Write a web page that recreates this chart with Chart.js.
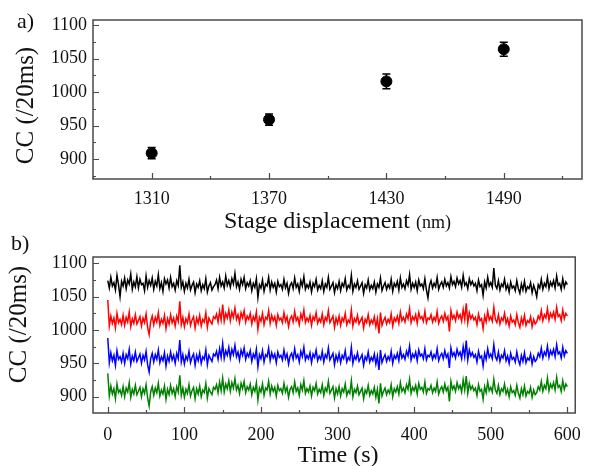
<!DOCTYPE html>
<html>
<head>
<meta charset="UTF-8">
<title>CC vs stage displacement</title>
<script src="https://cdn.jsdelivr.net/npm/chart.js"></script>
<style>
    body { margin: 0; background: #fff; }
    #wrap { position: relative; width: 592px; height: 466px; font-family: "Liberation Serif", serif; color: #111; }
    .box { position: absolute; left: 0; width: 592px; }
    .lbl { position: absolute; font-size: 22px; line-height: 22px; }
    .xt { position: absolute; text-align: center; font-size: 24px; line-height: 24px; white-space: nowrap; }
    .xt small { font-size: 18px; }
    .yt { position: absolute; width: 200px; height: 25px; font-size: 25px; line-height: 25px;
          text-align: center; white-space: nowrap; transform: rotate(-90deg); }
</style>
</head>
<body>
<div id="wrap">
    <div class="box" style="top:0;height:232px"><canvas id="chartA"></canvas></div>
    <div class="box" style="top:232px;height:234px"><canvas id="chartB"></canvas></div>
    <div class="lbl" style="left:17px;top:10px">a)</div>
    <div class="lbl" style="left:11px;top:232px">b)</div>
    <div class="yt" style="left:-76.5px;top:93px">CC (/20ms)</div>
    <div class="yt" style="left:-83.4px;top:312px">CC (/20ms)</div>
    <div class="xt" style="left:93px;width:489px;top:208px">Stage displacement <small>(nm)</small></div>
    <div class="xt" style="left:93px;width:490px;top:442px">Time (s)</div>
</div>
<script>
// panel a
const displacement = [1310, 1370, 1430, 1490];
const ccMean = [909, 959, 1016, 1064];
const ccErr = [8.5, 8.5, 11, 10.5];
const xTicksA = [1310, 1370, 1430, 1490];
const yTicks = [900, 950, 1000, 1050, 1100];

// panel b, one sample every 2 s (0 .. 600 s)
const time = [];
for (let t = 0; t <= 600; t += 2) time.push(t);
const traceBlack = [
    1074,1063,1079,1066,1071,1060,1082,1068,1050,1073,
    1066,1078,1062,1075,1069,1084,1061,1072,1065,1080,
    1063,1076,1068,1070,1059,1081,1064,1074,1067,1078,
    1061,1073,1066,1083,1062,1071,1058,1077,1069,1075,
    1063,1079,1065,1070,1060,1074,1067,1097,1064,1072,
    1058,1070,1063,1076,1060,1067,1072,1056,1069,1064,
    1074,1059,1068,1062,1077,1057,1066,1071,1060,1065,
    1068,1075,1062,1079,1066,1072,1063,1081,1067,1074,
    1064,1077,1069,1085,1065,1072,1061,1076,1068,1079,
    1062,1071,1066,1074,1059,1070,1064,1077,1049,1068,
    1063,1075,1058,1069,1066,1079,1060,1072,1064,1070,
    1057,1073,1065,1068,1061,1076,1063,1070,1055,1067,
    1071,1062,1078,1064,1069,1058,1074,1066,1080,1061,
    1068,1063,1072,1057,1070,1065,1076,1060,1067,1062,
    1074,1058,1069,1064,1079,1061,1066,1071,1056,1068,
    1062,1073,1059,1070,1065,1077,1060,1067,1063,1082,
    1058,1069,1064,1074,1061,1066,1071,1055,1068,1063,
    1075,1060,1067,1062,1072,1057,1069,1064,1078,1059,
    1066,1071,1061,1068,1063,1076,1058,1070,1065,1073,
    1060,1078,1064,1069,1062,1074,1067,1083,1061,1070,
    1064,1072,1059,1075,1066,1069,1062,1077,1060,1048,
    1067,1074,1063,1070,1065,1079,1061,1068,1072,1064,
    1076,1066,1071,1063,1080,1068,1073,1065,1078,1069,
    1074,1064,1082,1067,1071,1062,1077,1068,1073,1066,
    1070,1059,1075,1065,1068,1052,1072,1063,1079,1066,
    1071,1064,1093,1067,1062,1074,1060,1069,1065,1076,
    1061,1068,1057,1072,1063,1066,1059,1074,1062,1055,
    1069,1060,1073,1058,1065,1062,1071,1056,1067,1060,
    1050,1068,1063,1076,1061,1070,1065,1079,1062,1072,
    1066,1074,1063,1081,1067,1070,1061,1077,1064,1072,
    1068];
const traceRed = [
    1045,1006,1021,1010,1018,1003,1025,1011,1016,1008,
    1022,1007,1019,1012,1027,1005,1017,1010,1023,1009,
    1014,1020,1006,1018,1011,1024,1004,993,1013,1021,
    1008,1019,1012,1026,1007,1016,1010,1022,1002,1017,
    1009,1023,1011,1018,1006,1021,1013,1043,1008,1019,
    1005,1017,1011,1024,1007,1015,1020,1003,1018,1010,
    1022,1006,1016,1012,1026,1004,1018,1013,1009,1020,
    1017,1024,1012,1028,1015,1038,1013,1025,1018,1030,
    1014,1027,1019,1033,1016,1023,1011,1026,1018,1029,
    1012,1021,1016,1025,1009,1020,1014,1027,1001,1019,
    1013,1025,1008,1019,1016,1029,1010,1022,1014,1020,
    1007,1023,1015,1018,1011,1026,1013,1020,1005,1017,
    1021,1012,1028,1014,1019,1008,1024,1016,1030,1011,
    1018,1013,1022,1007,1020,1015,1026,1010,1017,1012,
    1024,1008,1019,1014,1029,1011,1016,1021,1004,1018,
    1010,1021,1007,1018,1013,1025,1008,1015,1011,1030,
    1006,1017,1012,1022,1009,1014,1019,1003,1016,1011,
    1023,1008,1015,1010,1020,1005,1017,995,1026,1007,
    1014,1019,1009,1016,1011,1024,1006,1018,1013,1021,
    1010,1027,1014,1019,1012,1024,1017,1032,1011,1020,
    1015,1023,1010,1026,1017,1020,1013,1028,1011,1018,
    1016,1023,1012,1019,1014,1028,1010,1017,1021,1013,
    1025,1015,1020,998,1029,1017,1022,1014,1027,1018,
    1023,1013,1031,1016,1040,1011,1026,1017,1022,1015,
    1019,1008,1024,1014,1017,1002,1021,1012,1028,1015,
    1020,1013,1034,1016,1011,1023,1009,1018,1014,1025,
    1010,1017,1006,1021,1012,1015,1008,1023,1011,1004,
    1018,1009,1022,1007,1014,1011,1020,1005,1016,1009,
    1012,1021,1016,1029,1014,1023,1018,1032,1015,1025,
    1019,1027,1016,1034,1020,1023,1014,1030,1017,1025,
    1021];
const traceBlue = [
    988,951,966,954,962,947,969,956,960,952,
    965,950,963,957,971,949,961,954,967,953,
    958,964,950,962,955,968,948,937,957,965,
    952,963,956,970,951,960,954,966,946,961,
    953,967,955,962,950,965,957,985,952,963,
    949,961,955,968,951,959,964,947,962,954,
    966,950,960,956,970,948,962,957,953,964,
    961,968,956,972,959,980,957,969,962,974,
    958,971,963,977,960,967,955,970,962,973,
    956,965,960,969,953,964,958,971,945,963,
    957,969,952,963,960,973,954,966,958,964,
    951,967,959,962,955,970,957,964,949,961,
    965,956,972,958,963,952,968,960,974,955,
    962,957,966,951,964,959,970,954,961,956,
    968,952,963,958,973,955,960,965,948,962,
    954,965,951,962,957,969,952,959,955,974,
    950,961,956,966,953,958,963,947,960,955,
    967,952,959,954,964,949,961,940,970,951,
    958,963,953,960,955,968,950,962,957,965,
    954,971,958,963,956,968,961,976,955,964,
    959,967,954,970,961,964,957,972,955,962,
    960,967,956,963,958,972,954,961,965,957,
    969,959,964,943,973,961,966,958,971,962,
    967,957,975,960,984,955,970,961,966,959,
    963,952,968,958,961,946,965,956,972,959,
    964,957,978,960,955,967,953,962,958,969,
    954,961,950,965,956,959,952,967,955,948,
    962,953,966,951,958,955,964,949,960,953,
    956,965,960,973,958,967,962,976,959,969,
    963,971,960,978,964,967,958,974,961,969,
    965];
const traceGreen = [
    935,901,916,904,912,897,919,906,910,902,
    915,900,913,907,921,899,911,904,917,903,
    908,914,900,912,905,918,898,886,907,915,
    902,913,906,920,901,910,904,916,896,911,
    903,917,905,912,900,915,907,932,902,913,
    899,911,905,918,901,909,914,897,912,904,
    916,900,910,906,920,898,912,907,903,914,
    911,918,906,922,909,928,907,919,912,924,
    908,921,913,927,910,917,905,920,912,923,
    906,915,910,919,903,914,908,921,895,913,
    907,919,902,913,910,923,904,916,908,914,
    901,917,909,912,905,920,907,914,899,911,
    915,906,922,908,913,902,918,910,924,905,
    912,907,916,901,914,909,920,904,911,906,
    918,902,913,908,923,905,910,915,898,912,
    904,915,901,912,907,919,902,909,905,924,
    900,911,906,916,903,908,913,897,910,905,
    917,902,909,904,914,899,911,890,920,901,
    908,913,903,910,905,918,900,912,907,915,
    904,921,908,913,906,918,911,926,905,914,
    909,917,904,920,911,914,907,922,905,912,
    910,917,906,913,908,922,904,911,915,907,
    919,909,914,893,923,911,916,908,921,912,
    917,907,925,910,931,905,920,911,916,909,
    913,902,918,908,911,896,915,906,922,909,
    914,907,926,910,905,917,903,912,908,919,
    904,911,900,915,906,909,902,917,905,898,
    912,903,916,901,908,905,914,899,910,903,
    906,915,910,923,908,917,912,928,909,919,
    913,921,910,929,914,917,908,924,911,919,
    915];
const xTicksB = [0, 100, 200, 300, 400, 500, 600];

const serif = '"Liberation Serif", "Times New Roman", serif';

// closed box with inward major/minor ticks on the left and bottom
const framePlugin = {
    id: 'frame',
    afterDraw(chart, args, opts) {
        const { ctx, chartArea: a, scales: { x, y } } = chart;
        ctx.save();
        ctx.strokeStyle = '#4a4a4a';
        ctx.lineWidth = 1.5;
        ctx.strokeRect(a.left, a.top, a.right - a.left, a.bottom - a.top);
        ctx.lineWidth = 1.2;
        ctx.beginPath();
        const yMajor = y.ticks.map(t => t.value);
        let v0 = yMajor[0];
        while (v0 - opts.yStep >= y.min) v0 -= opts.yStep;
        for (let v = v0; v <= y.max; v += opts.yStep) {
            const p = Math.round(y.getPixelForValue(v)) + 0.5;
            const len = yMajor.includes(v) ? 6 : 3;
            ctx.moveTo(a.left, p);
            ctx.lineTo(a.left + len, p);
        }
        const xMajor = x.ticks.map(t => t.value);
        let u0 = xMajor[0];
        while (u0 - opts.xStep >= x.min) u0 -= opts.xStep;
        for (let v = u0; v <= x.max; v += opts.xStep) {
            const p = Math.round(x.getPixelForValue(v)) + 0.5;
            const len = xMajor.includes(v) ? 6 : 3;
            ctx.moveTo(p, a.bottom);
            ctx.lineTo(p, a.bottom - len);
        }
        ctx.stroke();
        ctx.restore();
    }
};

// vertical error bars with caps, drawn under the points
const errorBarPlugin = {
    id: 'errorBars',
    beforeDatasetsDraw(chart) {
        const { ctx, scales: { y } } = chart;
        const meta = chart.getDatasetMeta(0);
        ctx.save();
        ctx.strokeStyle = '#000';
        ctx.lineWidth = 1.5;
        meta.data.forEach((pt, i) => {
            const top = y.getPixelForValue(ccMean[i] + ccErr[i]);
            const bot = y.getPixelForValue(ccMean[i] - ccErr[i]);
            ctx.beginPath();
            ctx.moveTo(pt.x, top); ctx.lineTo(pt.x, bot);
            ctx.moveTo(pt.x - 4, top); ctx.lineTo(pt.x + 4, top);
            ctx.moveTo(pt.x - 4, bot); ctx.lineTo(pt.x + 4, bot);
            ctx.stroke();
        });
        ctx.restore();
    }
};

function yScale(min, max) {
    return {
        type: 'linear', min: min, max: max,
        afterBuildTicks: s => { s.ticks = yTicks.map(v => ({ value: v })); },
        afterFit: s => { s.width = 93; },
        grid: { display: false, drawTicks: false },
        border: { display: false },
        ticks: { padding: 6, color: '#111', font: { family: serif, size: 18 }, callback: v => String(v) }
    };
}

function xScale(min, max, tickList, pad) {
    return {
        type: 'linear', min: min, max: max,
        afterBuildTicks: s => { s.ticks = tickList.map(v => ({ value: v })); },
        afterFit: s => { s.height = 53; },
        grid: { display: false, drawTicks: false },
        border: { display: false },
        ticks: { padding: pad, color: '#111', font: { family: serif, size: 18 }, callback: v => String(v) }
    };
}

new Chart(document.getElementById('chartA'), {
    type: 'scatter',
    data: {
        datasets: [{
            data: displacement.map((d, i) => ({ x: d, y: ccMean[i] })),
            backgroundColor: '#000',
            borderColor: '#000',
            pointRadius: 5.5,
            pointHoverRadius: 5.5
        }]
    },
    options: {
        responsive: true,
        maintainAspectRatio: false,
        animation: false,
        layout: { padding: { left: 0, right: 10, top: 20, bottom: 0 } },
        plugins: { legend: { display: false }, tooltip: { enabled: false }, frame: { xStep: 30, yStep: 25 } },
        scales: { x: xScale(1280, 1530, xTicksA, 9), y: yScale(870.5, 1107.5) }
    },
    plugins: [errorBarPlugin, framePlugin]
});

function trace(values, color) {
    return {
        data: values,
        borderColor: color,
        borderWidth: 1.5,
        pointRadius: 0,
        tension: 0,
        fill: false
    };
}

new Chart(document.getElementById('chartB'), {
    type: 'line',
    data: {
        labels: time,
        datasets: [
            trace(traceBlack, '#000000'),
            trace(traceRed, '#ff0000'),
            trace(traceBlue, '#0000ff'),
            trace(traceGreen, '#008000')
        ]
    },
    options: {
        responsive: true,
        maintainAspectRatio: false,
        animation: false,
        layout: { padding: { left: 0, right: 9, top: 25, bottom: 0 } },
        plugins: { legend: { display: false }, tooltip: { enabled: false }, frame: { xStep: 50, yStep: 25 } },
        scales: { x: xScale(-19.3, 610.3, xTicksB, 11), y: yScale(875.5, 1109.5) }
    },
    plugins: [framePlugin]
});
</script>
</body>
</html>
